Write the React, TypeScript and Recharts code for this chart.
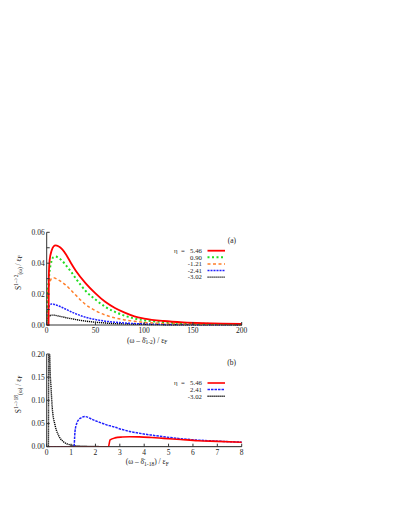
import React from 'react';
import { LineChart, Line, XAxis, YAxis, Legend } from 'recharts';

const FONT = '"Liberation Serif", "DejaVu Serif", serif';
const INK = '#222';

// panel (a): S^{1->2}, omega in units of eF
const omegaA = [0, 0.2, 0.8, 1, 1.9, 2.2, 3, 5, 7, 9, 12, 16, 20, 25, 30, 40, 50, 60, 70, 80, 90, 100, 120, 140, 160, 180, 200];
const sA546 = [0, 0, 0, 0, 0, 0.032, 0.042, 0.048, 0.0508, 0.0515, 0.051, 0.049, 0.0455, 0.040, 0.035, 0.027, 0.0205, 0.015, 0.011, 0.008, 0.0056, 0.0042, 0.0026, 0.0017, 0.0012, 0.0009, 0.0007];
const sA090 = [0, 0, 0, 0.018, 0.028, 0.030, 0.035, 0.0415, 0.044, 0.0443, 0.0435, 0.0415, 0.0385, 0.0345, 0.030, 0.022, 0.0165, 0.0118, 0.0085, 0.006, 0.0042, 0.0031, 0.0019, 0.0012, 0.0008, 0.0006, 0.0004];
const sAm121 = [0, 0.012, 0.019, 0.020, 0.024, 0.025, 0.027, 0.0302, 0.0306, 0.0302, 0.0292, 0.0276, 0.0256, 0.0225, 0.0192, 0.0132, 0.0093, 0.0065, 0.0046, 0.0033, 0.0024, 0.0017, 0.001, 0.0006, 0.0004, 0.0003, 0.0002];
const sAm241 = [0, 0.006, 0.0088, 0.0093, 0.0112, 0.0117, 0.0127, 0.0136, 0.0135, 0.0131, 0.0124, 0.0113, 0.0101, 0.0086, 0.0072, 0.005, 0.0035, 0.0025, 0.0018, 0.0013, 0.0009, 0.0007, 0.0004, 0.0003, 0.0002, 0.0001, 0.0001];
const sAm302 = [0, 0.0028, 0.004, 0.0043, 0.0052, 0.0055, 0.0059, 0.0064, 0.0064, 0.0062, 0.0058, 0.0053, 0.0047, 0.0041, 0.0035, 0.0025, 0.0018, 0.0013, 0.0009, 0.0007, 0.0005, 0.0004, 0.0002, 0.0001, 0.0001, 0.0001, 0];

// panel (b): S^{1->18}
const omegaB = [0, 0.07, 0.09, 0.11, 0.135, 0.18, 0.23, 0.34, 0.48, 0.68, 0.96, 1.12, 1.16, 1.23, 1.37, 1.57, 1.91, 2.2, 2.53, 2.6, 2.8, 3.1, 3.4, 3.8, 4.3, 4.8, 5.5, 6.2, 7, 8];
const sB546 = [0, 0, 0, 0, 0, 0, 0, 0, 0, 0, 0, 0, 0, 0, 0, 0, 0, 0, 0, 0.0145, 0.019, 0.0208, 0.0215, 0.0212, 0.0198, 0.018, 0.0155, 0.013, 0.0115, 0.0095];
const sB241 = [0, 0, 0, 0, 0, 0, 0, 0, 0, 0, 0, 0, 0.032, 0.05, 0.061, 0.065, 0.0578, 0.052, 0.046, 0.045, 0.042, 0.037, 0.033, 0.029, 0.025, 0.0215, 0.0172, 0.0142, 0.012, 0.0098];
const sBm302 = [0, 0, 0.4, 0.26, 0.176, 0.126, 0.083, 0.047, 0.025, 0.011, 0.004, 0.0025, 0.0022, 0.0018, 0.0013, 0.0009, 0.0005, 0.0002, 0, 0, 0, 0, 0, 0, 0, 0, 0, 0, 0, 0];

const xTicksA = [0, 50, 100, 150, 200];
const yTicksA = [0, 0.01, 0.02, 0.03, 0.04, 0.05, 0.06];
const xTicksB = [0, 1, 2, 3, 4, 5, 6, 7, 8];
const yTicksB = [0, 0.05, 0.1, 0.15, 0.2];

interface Series {
  key: string;
  label: string;
  color: string;
  width: number;
  dash?: string;
}

const seriesA: Series[] = [
  { key: 's546', label: '5.46', color: '#ff0000', width: 1.8 },
  { key: 's090', label: '0.90', color: '#22dd22', width: 2, dash: '2 2.5' },
  { key: 'sm121', label: '-1.21', color: '#ff7f2a', width: 1.5, dash: '3 2.5' },
  { key: 'sm241', label: '-2.41', color: '#2020ff', width: 1.5, dash: '2 1' },
  { key: 'sm302', label: '-3.02', color: '#000000', width: 1.4, dash: '1.2 0.8' },
];

const seriesB: Series[] = [
  { key: 's546', label: '5.46', color: '#ff0000', width: 1.6 },
  { key: 's241', label: '2.41', color: '#2020ff', width: 1.5, dash: '2.5 1' },
  { key: 'sm302', label: '-3.02', color: '#000000', width: 1.4, dash: '1.2 0.8' },
];

const dataA = omegaA.map((w, i) => ({ w, s546: sA546[i], s090: sA090[i], sm121: sAm121[i], sm241: sAm241[i], sm302: sAm302[i] }));
const dataB = omegaB.map((w, i) => ({ w, s546: sB546[i], s241: sB241[i], sm302: sBm302[i] }));

const tickStyle = { fontSize: 7.5, fontFamily: FONT, fill: INK };
const KEY_FS = 6.8;

const KeyBox = ({ tag, items, firstRow }: { tag: string; items: Series[]; firstRow: number }) => (
  <svg width={72} height={firstRow + items.length * 6.6 + 4} style={{ display: 'block', overflow: 'visible' }}>
    <text x={66} y={8.5} textAnchor="end" fontSize={7.5} fontFamily={FONT} fill={INK}>{tag}</text>
    {items.map((s, i) => {
      const cy = firstRow + i * 6.6;
      return (
        <g key={s.key}>
          {i === 0 && <text x={4} y={cy + 2.3} fontSize={KEY_FS} fontFamily={FONT} fill={INK}>η</text>}
          {i === 0 && <text x={11} y={cy + 2.3} fontSize={KEY_FS} fontFamily={FONT} fill={INK}>=</text>}
          <text x={32} y={cy + 2.3} textAnchor="end" fontSize={KEY_FS} fontFamily={FONT} fill={INK}>{s.label}</text>
          <line x1={37.5} x2={55} y1={cy} y2={cy} stroke={s.color} strokeWidth={s.width} strokeDasharray={s.dash} />
        </g>
      );
    })}
  </svg>
);

const xTitle = (sub: string) => (props: any) => {
  const vb = props.viewBox || { x: 0, y: 0, width: 0 };
  return (
    <text x={vb.x + vb.width / 2 + 3} y={vb.y + 17.5} textAnchor="middle" fontSize={7.5} fontFamily={FONT} fill={INK}>
      (ω – δ̄<tspan fontSize={5.5} dy={1.5}>{sub}</tspan>
      <tspan dy={-1.5}>) / ε</tspan>
      <tspan fontSize={5.5} dy={1.5}>F</tspan>
    </text>
  );
};

const yTitle = (sup: string) => (props: any) => {
  const vb = props.viewBox || { x: 0, y: 0, height: 0 };
  const cx = vb.x + 4;
  const cy = vb.y + vb.height / 2 - 6;
  return (
    <text x={cx} y={cy} transform={`rotate(-90 ${cx} ${cy})`} textAnchor="middle" fontSize={7.5} fontFamily={FONT} fill={INK}>
      S<tspan fontSize={5.5} dy={-2.5}>{sup}</tspan>
      <tspan fontSize={5.5} dy={4}>(ω)</tspan>
      <tspan dy={-1.5}> / ε</tspan>
      <tspan fontSize={5.5} dy={1.5}>F</tspan>
    </text>
  );
};

const frame = { stroke: '#333', strokeWidth: 1 };

const App = () => (
  <div style={{ position: 'absolute', left: 0, top: 0, width: 395, height: 511 }}>
    <div style={{ position: 'absolute', left: 0, top: 200 }}>
      <LineChart width={260} height={150} data={dataA} margin={{ top: 32.3, right: 18.3, bottom: 5, left: 16.7 }}>
        <XAxis dataKey="w" type="number" domain={[0, 200]} ticks={xTicksA} height={20} axisLine={frame} tickLine={frame}
          tickSize={-3} tickMargin={6} tick={tickStyle} label={xTitle('1-2')} />
        <XAxis xAxisId="top" orientation="top" type="number" domain={[0, 200]} ticks={xTicksA} height={0}
          axisLine={frame} tickLine={frame} tickSize={-3} tick={false} />
        <YAxis type="number" domain={[0, 0.06]} ticks={yTicksA} width={30} axisLine={frame} tickLine={frame}
          tickSize={-3} tickMargin={5} tick={tickStyle}
          tickFormatter={(v: number) => (Math.round(v * 100) % 2 === 0 ? v.toFixed(2) : '')} label={yTitle('1–>2')} />
        <YAxis yAxisId="right" orientation="right" type="number" domain={[0, 0.06]} ticks={yTicksA} width={0}
          axisLine={frame} tickLine={frame} tickSize={-3} tick={false} />
        {[...seriesA].reverse().map(s => (
          <Line key={s.key} type="monotone" dataKey={s.key} stroke={s.color} strokeWidth={s.width}
            strokeDasharray={s.dash} dot={false} activeDot={false} isAnimationActive={false} />
        ))}
        <Legend layout="vertical" align="center" verticalAlign="middle"
          wrapperStyle={{ left: 170, top: 34, width: 72 }}
          content={() => <KeyBox tag="(a)" items={seriesA} firstRow={16.7} />} />
      </LineChart>
    </div>
    <div style={{ position: 'absolute', left: 0, top: 320 }}>
      <LineChart width={260} height={150} data={dataB} margin={{ top: 34, right: 18.3, bottom: 3.3, left: 16.7 }}>
        <XAxis dataKey="w" type="number" domain={[0, 8]} ticks={xTicksB} height={20} axisLine={frame} tickLine={frame}
          tickSize={-3} tickMargin={6} tick={tickStyle} label={xTitle('1-18')} />
        <XAxis xAxisId="top" orientation="top" type="number" domain={[0, 8]} ticks={xTicksB} height={0}
          axisLine={frame} tickLine={frame} tickSize={-3} tick={false} />
        <YAxis type="number" domain={[0, 0.2]} allowDataOverflow ticks={yTicksB} width={30} axisLine={frame} tickLine={frame}
          tickSize={-3} tickMargin={5} tick={tickStyle} tickFormatter={(v: number) => v.toFixed(2)} label={yTitle('1–>18')} />
        <YAxis yAxisId="right" orientation="right" type="number" domain={[0, 0.2]} ticks={yTicksB} width={0}
          axisLine={frame} tickLine={frame} tickSize={-3} tick={false} />
        {[...seriesB].reverse().map(s => (
          <Line key={s.key} type="monotone" dataKey={s.key} stroke={s.color} strokeWidth={s.width}
            strokeDasharray={s.dash} dot={false} activeDot={false} isAnimationActive={false} />
        ))}
        <Legend layout="vertical" align="center" verticalAlign="middle"
          wrapperStyle={{ left: 170, top: 36, width: 72 }}
          content={() => <KeyBox tag="(b)" items={seriesB} firstRow={27} />} />
      </LineChart>
    </div>
  </div>
);

export default App;
